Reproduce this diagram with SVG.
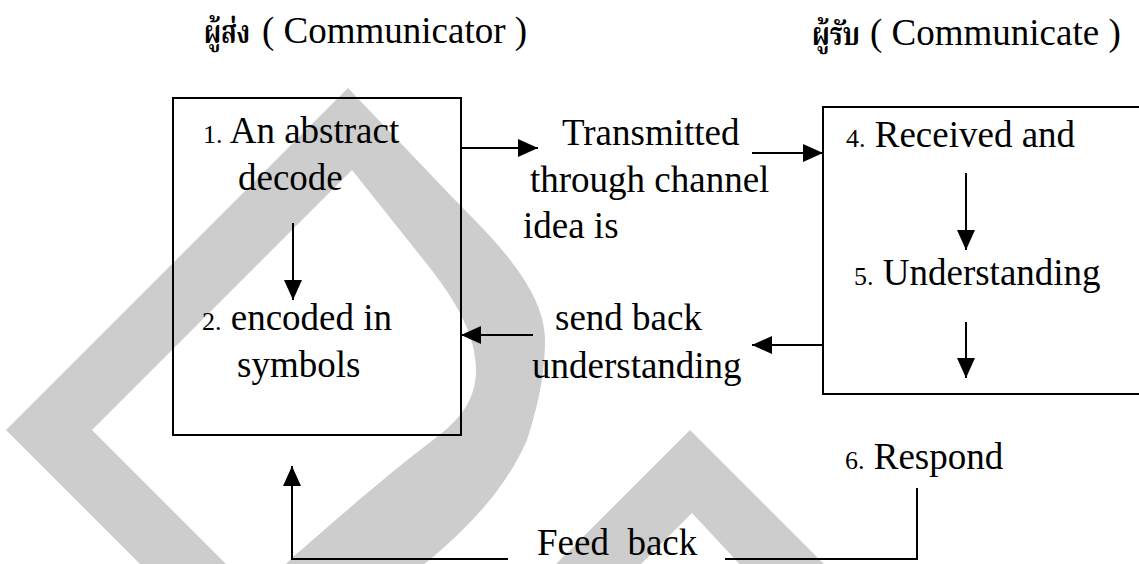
<svg xmlns="http://www.w3.org/2000/svg" width="1139" height="564" viewBox="0 0 1139 564">
  <style>
    .t { font-family: "Liberation Serif", "Times New Roman", serif; font-size: 37px; fill: #000; }
    .n { font-size: 26px; }
    .th { font-family: "Noto Serif Thai", "Noto Sans Thai", "Tlwg Typo", "Loma", "Garuda", "DejaVu Sans", "Liberation Serif", serif; font-size: 32px; font-weight: bold; fill: #000; }
    .box { fill: none; stroke: #000; stroke-width: 2; }
    .ln { fill: none; stroke: #000; stroke-width: 2; }
    .wm { fill: #cdcdcd; fill-rule: evenodd; }
  </style>
  <defs>
    <marker id="ah" viewBox="0 0 20 18" refX="20" refY="9" markerWidth="20" markerHeight="18" markerUnits="userSpaceOnUse" orient="auto">
      <path d="M0,0 L20,9 L0,18 Z" fill="#000"/>
    </marker>
  </defs>

  <rect width="1139" height="564" fill="#fff"/>

  <!-- background emblem: drop outline and chevron -->
  <g id="emblem">
    <path class="wm" d="M348,88 L455,200 C495,240 545,290 545,340 C545,380 535,415 527,440 C505,490 470,525 433,557 C400,585 360,600 320,610 L196,620 L6,430 Z
                        M352,170 L92,430 L252,590 C265,585 280,570 293,557 C330,525 390,472 433,440 C460,420 476,400 476,370 C476,335 455,300 430,268 Z"/>
    <path class="wm" d="M690,430 L830,570 L745,570 L692,513 L635,570 L550,570 Z"/>
  </g>

  <!-- headings -->
  <g id="heading-sender">
    <text class="th" x="204" y="43" textLength="46" lengthAdjust="spacingAndGlyphs">ผู้ส่ง</text>
    <text class="t" x="262" y="43">( Communicator )</text>
  </g>
  <g id="heading-receiver">
    <text class="th" x="812" y="45" textLength="48" lengthAdjust="spacingAndGlyphs">ผู้รับ</text>
    <text class="t" x="870" y="45">( Communicate )</text>
  </g>

  <!-- sender box -->
  <g id="sender">
    <rect class="box" x="173" y="98" width="288" height="337"/>
    <text class="t" x="203" y="143"><tspan class="n">1.</tspan> An abstract</text>
    <text class="t" x="238" y="190">decode</text>
    <text class="t" x="202" y="330"><tspan class="n">2.</tspan> encoded in</text>
    <text class="t" x="237" y="377">symbols</text>
  </g>

  <!-- receiver box -->
  <g id="receiver">
    <rect class="box" x="823" y="107" width="330" height="287"/>
    <text class="t" x="846" y="147"><tspan class="n">4.</tspan> Received and</text>
    <text class="t" x="854" y="285"><tspan class="n">5.</tspan> Understanding</text>
  </g>

  <!-- channel labels -->
  <g id="channel">
    <text class="t" x="562" y="145">Transmitted</text>
    <text class="t" x="530" y="192">through channel</text>
    <text class="t" x="523" y="238">idea is</text>
  </g>
  <g id="send-back">
    <text class="t" x="555" y="330">send back</text>
    <text class="t" x="532" y="378">understanding</text>
  </g>
  <g id="respond">
    <text class="t" x="845" y="469"><tspan class="n">6.</tspan> Respond</text>
  </g>
  <g id="feedback-label">
    <text class="t" x="537" y="555" style="white-space:pre">Feed  back</text>
  </g>

  <!-- connectors -->
  <g id="connectors">
    <line class="ln" x1="462" y1="148" x2="538" y2="148" marker-end="url(#ah)"/>
    <line class="ln" x1="752" y1="153" x2="823" y2="153" marker-end="url(#ah)"/>
    <line class="ln" x1="293" y1="223" x2="293" y2="300" marker-end="url(#ah)"/>
    <line class="ln" x1="966" y1="173" x2="966" y2="250" marker-end="url(#ah)"/>
    <line class="ln" x1="966" y1="322" x2="966" y2="378" marker-end="url(#ah)"/>
    <line class="ln" x1="533" y1="335" x2="461" y2="335" marker-end="url(#ah)"/>
    <line class="ln" x1="823" y1="345" x2="752" y2="345" marker-end="url(#ah)"/>
    <polyline class="ln" points="917,488 917,559 725,559"/>
    <polyline class="ln" points="508,559 292,559 292,466" marker-end="url(#ah)"/>
  </g>
</svg>
